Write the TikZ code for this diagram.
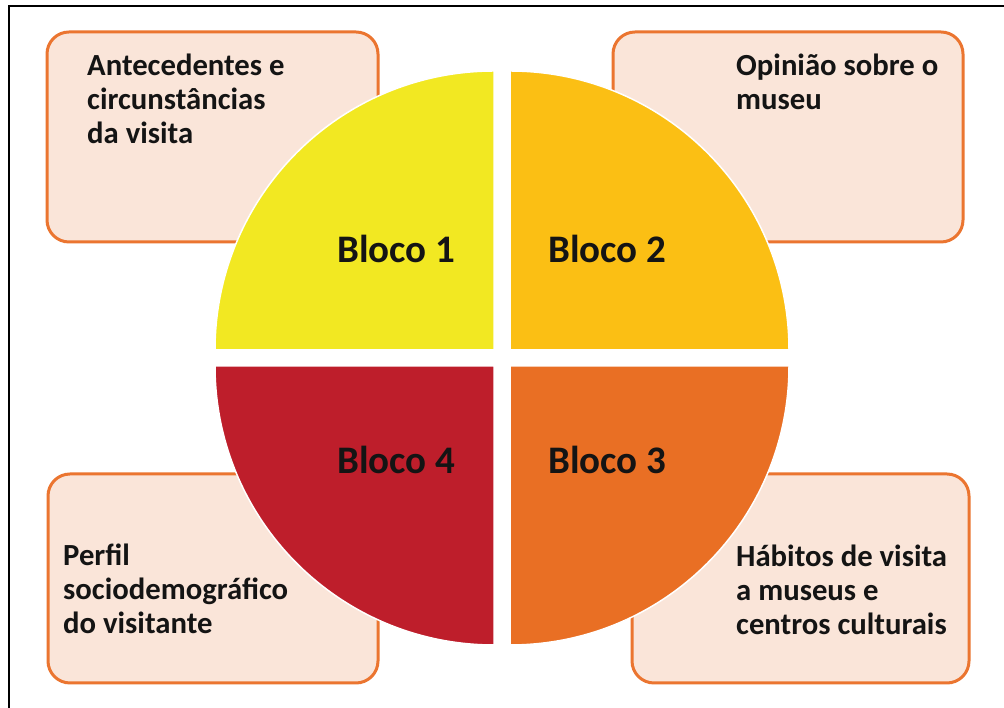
\documentclass[tikz,border=0pt]{standalone}
\usepackage{fontspec}
\setmainfont{Carlito}
\definecolor{qyellow}{HTML}{F2E822}
\definecolor{qgold}{HTML}{FBBF14}
\definecolor{qred}{HTML}{BE1E2B}
\definecolor{qorange}{HTML}{E96F24}
\definecolor{boxfill}{HTML}{FAE5D9}
\definecolor{boxline}{HTML}{EB7530}
\definecolor{txt}{HTML}{141414}
\begin{document}
\begin{tikzpicture}[x=1pt,y=1pt,
  box/.style={draw=boxline, fill=boxfill, line width=3pt, rounded corners=22pt, inner sep=0pt, outer sep=0pt, anchor=south west},
  quad/.style={draw=white, line width=1.5pt},
  blabel/.style={font=\bfseries\fontsize{39}{44}\selectfont, anchor=base west, inner sep=0pt, text=txt},
  btext/.style={font=\bfseries\fontsize{30.7}{34}\selectfont, anchor=base west, inner sep=0pt, align=left, text=txt}]
\useasboundingbox (0,0) rectangle (1004,708);
\fill[white] (0,0) rectangle (1004,708);
% frame
\draw[line width=1.2pt] (9,0) -- (9,702) -- (1004,702);
% boxes
\node[box, minimum width=331pt, minimum height=210pt] (box1) at (47,466) {};
\node[box, minimum width=350pt, minimum height=210pt] (box2) at (613,466) {};
\node[box, minimum width=337pt, minimum height=209pt] (box3) at (632,25) {};
\node[box, minimum width=330pt, minimum height=209pt] (box4) at (48,25) {};
% quadrants
\fill[qyellow, quad] (494,358) -- (215,358) arc[start angle=180, end angle=90, radius=279] -- cycle;
\fill[qgold, quad] (510,358) -- (510,637) arc[start angle=90, end angle=0, radius=279] -- cycle;
\fill[qorange, quad] (510,342) -- (789,342) arc[start angle=0, end angle=-90, radius=279] -- cycle;
\fill[qred, quad] (494,342) -- (494,63) arc[start angle=270, end angle=180, radius=279] -- cycle;
% block labels
\node[blabel] (bl1) at (337,445) {Bloco 1};
\node[blabel] (bl2) at (548,445) {Bloco 2};
\node[blabel] (bl4) at (337,234) {Bloco 4};
\node[blabel] (bl3) at (548,234) {Bloco 3};
% box texts (anchored at the baseline of the last line)
\node[btext] (t1) at (87,564) {Antecedentes e\\circunstâncias\\da visita};
\node[btext] (t2) at (736,598) {Opinião sobre o\\museu};
\node[btext] (t3) at (736,73) {Hábitos de visita\\a museus e\\centros culturais};
\node[btext] (t4) at (63,74) {Perfil\\sociodemográfico\\do visitante};
\end{tikzpicture}
\end{document}
